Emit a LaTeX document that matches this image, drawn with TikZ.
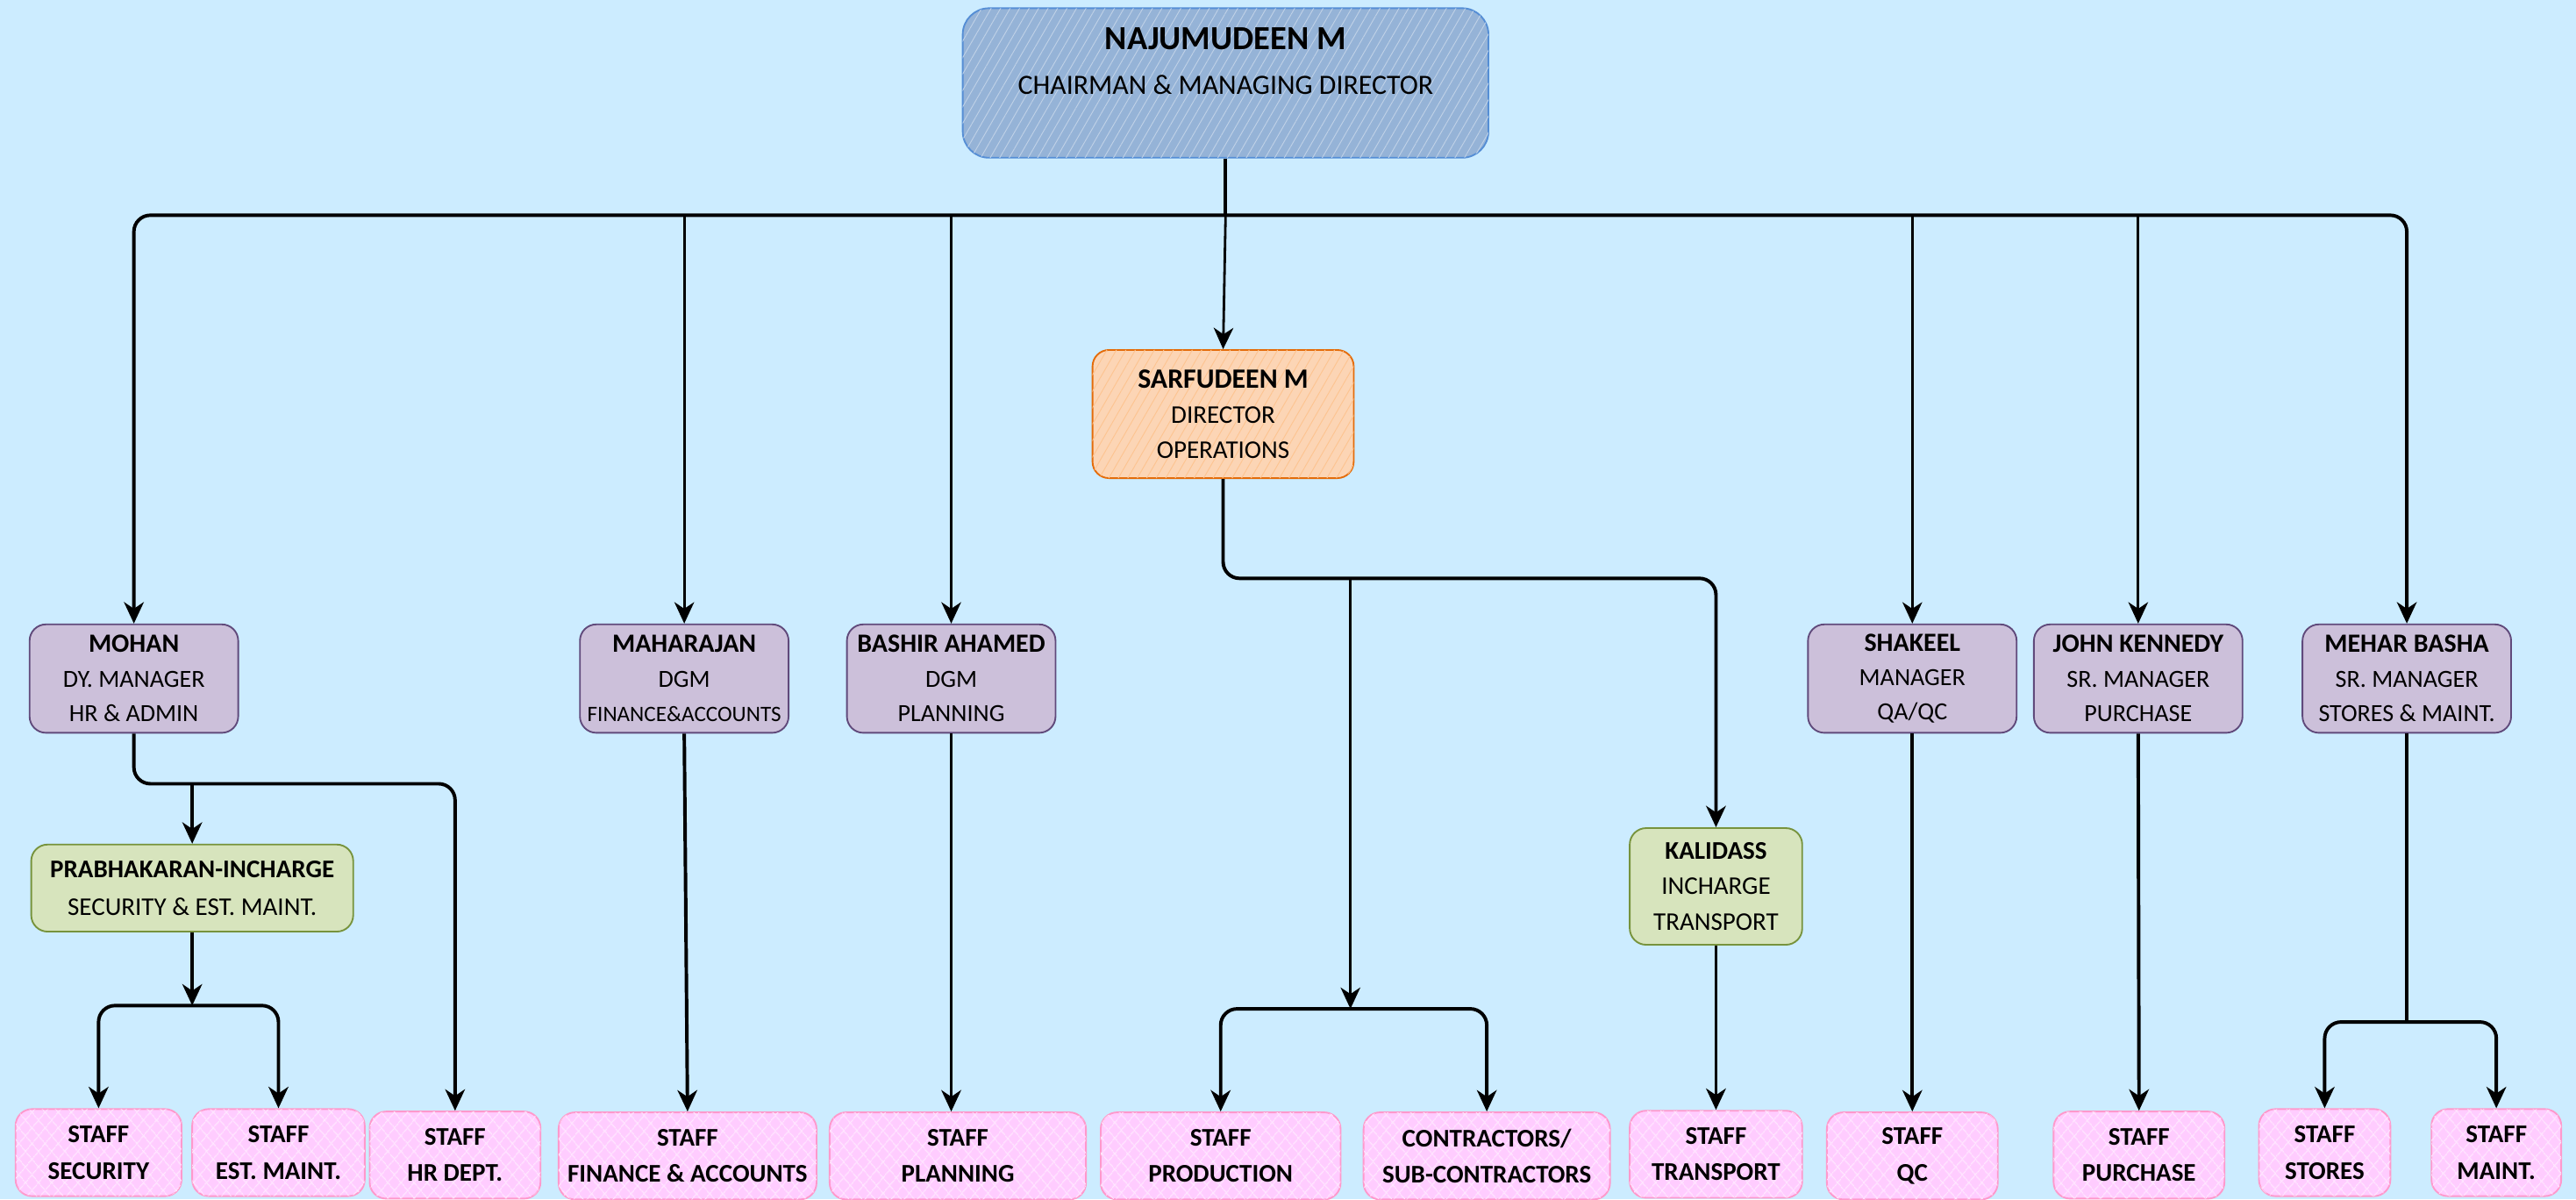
\documentclass[tikz,border=0pt]{standalone}
\usepackage{fontspec}
\setmainfont{Carlito}
\usetikzlibrary{arrows.meta,patterns.meta}

\definecolor{bgblue}{HTML}{CCECFF}
\definecolor{cmdfill}{HTML}{95B3D7}
\definecolor{cmdline}{HTML}{558ED5}
\definecolor{dirfill}{HTML}{FCD5B5}
\definecolor{dirline}{HTML}{E46C0A}
\definecolor{mgrfill}{HTML}{CCC0DA}
\definecolor{mgrline}{HTML}{604A7B}
\definecolor{incfill}{HTML}{D7E4BD}
\definecolor{incline}{HTML}{77933C}
\definecolor{stafffill}{HTML}{FFCCFF}
\definecolor{staffline}{HTML}{FF99CC}

\newcommand{\pname}[1]{{\fontsize{16}{21}\selectfont\bfseries #1}}

\begin{document}
\begin{tikzpicture}[x=1pt,y=1pt,yscale=-1,
        >={Stealth[length=13pt,width=12pt,inset=4pt]},
        box/.style={draw, rounded corners=10, line width=1pt, align=center, inner sep=0pt},
        hatch/.style={postaction={pattern={Lines[angle=60,distance=5pt,line width=0.5pt]}, pattern color=#1}},
        chief/.style={box, fill=cmdfill, hatch=white!40!cmdfill, draw=cmdline, rounded corners=16, minimum width=320, minimum height=91, font=\fontsize{17}{27}\selectfont},
        director/.style={box, fill=dirfill, hatch=dirfill!80!orange, draw=dirline, minimum width=159, minimum height=78, font=\fontsize{15.5}{21.5}\selectfont},
        manager/.style={box, fill=mgrfill, draw=mgrline, minimum width=127, minimum height=66, font=\fontsize{15}{21}\selectfont},
        incharge/.style={box, fill=incfill, draw=incline, minimum height=53, font=\fontsize{15.5}{23}\selectfont},
        staff/.style={box, fill=stafffill, draw=staffline, minimum height=53, font=\fontsize{15.5}{22}\selectfont\bfseries,
            postaction={pattern={Lines[angle=50,distance=6.5pt,line width=0.6pt]}, pattern color=white!55!stafffill},
            postaction={pattern={Lines[angle=-50,distance=6.5pt,line width=0.6pt]}, pattern color=white!55!stafffill}},
        line/.style={line width=2.1pt, rounded corners=10},
        drop/.style={line width=1.5pt}]
        %set diagram size and background
        \path[use as bounding box, fill=bgblue] (0,0) rectangle (1568,730);

        %Top
        \node[chief] (cmd) at (746,50.5) {{\fontsize{20.5}{27}\selectfont\bfseries NAJUMUDEEN M}\\CHAIRMAN \& MANAGING DIRECTOR\\\mbox{}};
        \node[director] (sarf) at (744.5,252) {{\fontsize{17}{21.5}\selectfont\bfseries SARFUDEEN M}\\DIRECTOR\\OPERATIONS};

        %Managers
        \node[manager] (mohan) at (81.5,413) {\pname{MOHAN}\\DY. MANAGER\\HR \& ADMIN};
        \node[manager] (mahar) at (416.5,413) {\pname{MAHARAJAN}\\DGM\\{\fontsize{13.4}{21}\selectfont FINANCE\&ACCOUNTS}};
        \node[manager] (bashir) at (579,413) {\pname{BASHIR AHAMED}\\DGM\\PLANNING};
        \node[manager] (shakeel) at (1164,413) {\pname{SHAKEEL}\\MANAGER\\QA/QC};
        \node[manager] (john) at (1301.5,413) {\pname{JOHN KENNEDY}\\SR. MANAGER\\PURCHASE};
        \node[manager] (mehar) at (1465,413) {\pname{MEHAR BASHA}\\SR. MANAGER\\STORES \& MAINT.};

        %Incharges
        \node[incharge, minimum width=196] (prab) at (117,540.5) {\textbf{PRABHAKARAN-INCHARGE}\\SECURITY \& EST. MAINT.};
        \node[incharge, minimum width=105, minimum height=71, font=\fontsize{15.5}{21.5}\selectfont] (kali) at (1044.5,539.5) {\textbf{KALIDASS}\\INCHARGE\\TRANSPORT};

        %Staff
        \node[staff, minimum width=101] (secu) at (60,701.5) {STAFF\\SECURITY};
        \node[staff, minimum width=105] (estm) at (169.5,701.5) {STAFF\\EST. MAINT.};
        \node[staff, minimum width=104] (hrd) at (277,703) {STAFF\\HR DEPT.};
        \node[staff, minimum width=157] (fina) at (418.5,703.5) {STAFF\\FINANCE \& ACCOUNTS};
        \node[staff, minimum width=156] (plan) at (583,703.5) {STAFF\\PLANNING};
        \node[staff, minimum width=146] (prod) at (743,703.5) {STAFF\\PRODUCTION};
        \node[staff, minimum width=150] (contr) at (905,703.5) {CONTRACTORS/\\SUB-CONTRACTORS};
        \node[staff, minimum width=105] (trans) at (1044.5,702.5) {STAFF\\TRANSPORT};
        \node[staff, minimum width=104] (qc) at (1164,703.5) {STAFF\\QC};
        \node[staff, minimum width=104] (purch) at (1302,703) {STAFF\\PURCHASE};
        \node[staff, minimum width=80] (store) at (1415,701.5) {STAFF\\STORES};
        \node[staff, minimum width=79] (maint) at (1519.5,701.5) {STAFF\\MAINT.};

        %junctions
        \coordinate (bus) at (746,131);
        \coordinate (jmohan) at (117,477);
        \coordinate (jprab) at (117,612);
        \coordinate (jsarf) at (822,352);
        \coordinate (jops) at (822,614);
        \coordinate (jmehar) at (1465,622);

        %Straight Lines
        \draw[line] (cmd.south) -- (bus);
        \draw[line,<->] (mohan.north) |- (bus) -| (mehar.north);
        \draw[drop,->] (bus) -- (sarf.north);
        \draw[drop,->] (mahar.north |- bus) -- (mahar.north);
        \draw[drop,->] (bashir.north |- bus) -- (bashir.north);
        \draw[drop,->] (shakeel.north |- bus) -- (shakeel.north);
        \draw[drop,->] (john.north |- bus) -- (john.north);

        \draw[line,->] (mohan.south) |- (jmohan) -| (hrd.north);
        \draw[line,->] (jmohan) -- (prab.north);
        \draw[line,->] (prab.south) -- (jprab);
        \draw[line,<->] (secu.north) |- (jprab) -| (estm.north);

        \draw[line,->] (sarf.south) |- (jsarf) -| (kali.north);
        \draw[drop,->] (jsarf) -- (jops);
        \draw[line,<->] (prod.north) |- (jops) -| (contr.north);
        \draw[line,->] (kali.south) -- (trans.north);

        \draw[line,->] (mahar.south) -- (fina.north);
        \draw[line,->] (bashir.south) -- (bashir.south |- plan.north);
        \draw[line,->] (shakeel.south) -- (qc.north);
        \draw[line,->] (john.south) -- (purch.north);
        \draw[line] (mehar.south) -- (jmehar);
        \draw[line,<->] (store.north) |- (jmehar) -| (maint.north);

\end{tikzpicture}
\end{document}
